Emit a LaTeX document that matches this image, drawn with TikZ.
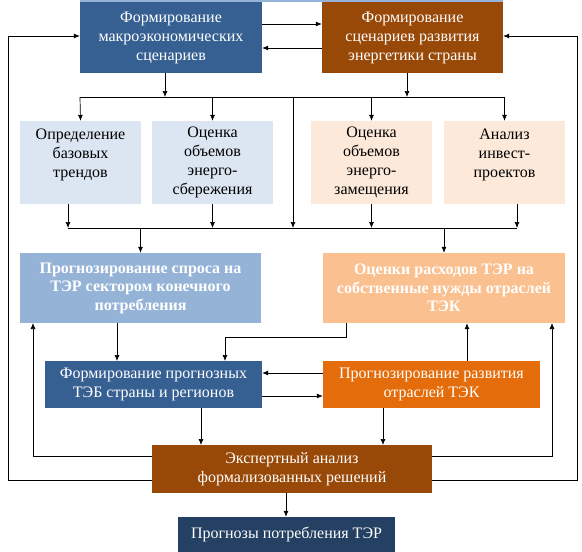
\documentclass[tikz,border=0pt]{standalone}
\usepackage{fontspec}
\setmainfont{Liberation Serif}
\usetikzlibrary{arrows.meta}
\definecolor{dblue}{HTML}{366092}
\definecolor{brn}{HTML}{984807}
\definecolor{lblue}{HTML}{DCE6F2}
\definecolor{lpeach}{HTML}{FDE9D9}
\definecolor{mblue}{HTML}{95B3D7}
\definecolor{mpeach}{HTML}{FAC090}
\definecolor{orng}{HTML}{E46C0A}
\definecolor{navy}{HTML}{244062}
\tikzset{
  box/.style={rectangle, inner sep=0pt, align=center, font=\fontsize{16}{19}\selectfont},
  wbox/.style={box, text=white},
  kbox/.style={box, text=black},
  bbox/.style={wbox, font=\fontsize{16}{18.5}\selectfont\bfseries},
  arr/.style={-{Latex[length=6pt,width=5pt]}, line width=0.7pt},
  ln/.style={line width=0.7pt}
}
\begin{document}
\begin{tikzpicture}[x=1pt,y=-1pt]
\useasboundingbox (0,0) rectangle (582,552);
\fill[mblue] (80,0) rectangle (503,2);
% top boxes
\node[wbox, fill=dblue, minimum width=182, minimum height=71] (b1) at (171,37.5) {Формирование\\макроэкономических\\сценариев};
\node[wbox, fill=brn, minimum width=181, minimum height=71] (b2) at (412.5,37.5) {Формирование\\сценариев развития\\энергетики страны};
% row 2
\node[kbox, fill=lblue, minimum width=121, minimum height=83] (a) at (80.5,162.5) {Определение\\базовых\\трендов\\~};
\node[kbox, fill=lblue, minimum width=121, minimum height=83] (b) at (212.5,162.5) {Оценка\\объемов\\энерго-\\сбережения};
\node[kbox, fill=lpeach, minimum width=121, minimum height=83] (c) at (371.5,162.5) {Оценка\\объемов\\энерго-\\замещения};
\node[kbox, fill=lpeach, minimum width=121, minimum height=83] (d) at (504.5,162.5) {Анализ\\инвест-\\проектов\\~};
% row 3
\node[bbox, fill=mblue, minimum width=241, minimum height=70] (e) at (140.5,288) {Прогнозирование спроса на\\ТЭР сектором конечного\\потребления};
\node[bbox, fill=mpeach, minimum width=242, minimum height=70] (f) at (444,288) {Оценки расходов ТЭР на\\собственные нужды отраслей\\ТЭК};
% row 4
\node[wbox, fill=dblue, minimum width=217, minimum height=47] (g) at (153.5,384.5) {Формирование прогнозных\\ТЭБ страны и регионов};
\node[wbox, fill=orng, minimum width=217, minimum height=47] (h) at (431.5,384.5) {Прогнозирование развития\\отраслей ТЭК};
% row 5
\node[wbox, fill=brn, minimum width=280, minimum height=48] (i) at (292,469) {Экспертный анализ\\формализованных решений};
\node[wbox, fill=navy, minimum width=217, minimum height=35] (j) at (286.5,534.5) {Прогнозы потребления ТЭР};

% coordinates
\coordinate (bus1) at (293,97);
\coordinate (bus2) at (293,228);
% top box exchange
\draw[arr] ([yshift=13.5]b1.east) -- ([yshift=13.5]b2.west);
\draw[arr] ([yshift=-10.5]b2.west) -- ([yshift=-10.5]b1.east);
% top to bus1
\draw[arr] (165,73) -- (165,97);
\draw[arr] (407,73) -- (407,97);
\draw[ln] (80,97) -- (504,97);
\draw[arr] (80,97) -- (a.north);
\draw[arr] (b.north |- bus1) -- (b.north);
\draw[arr] (c.north |- bus1) -- (c.north);
\draw[arr] (d.north |- bus1) -- (d.north);
\draw[arr] (bus1) -- (bus2);
% row2 to bus2
\draw[arr] (68,204) -- (68,228);
\draw[arr] (b.south) -- (b.south |- bus2);
\draw[arr] (c.south) -- (c.south |- bus2);
\draw[arr] (517,204) -- (517,228);
\draw[ln] (68,228) -- (517,228);
\draw[arr] (e.north |- bus2) -- (e.north);
\draw[arr] (f.north |- bus2) -- (f.north);
% row3 to row4
\draw[arr] (117,323) -- (117,361);
\draw[arr] (346,323) -- (346,337) -- (225,337) -- (225,361);
\draw[arr] (h.north -| 467,0) -- (f.south -| 467,0);
\draw[arr] ([yshift=11.5]h.west) -- ([yshift=11.5]g.east);
\draw[arr] ([yshift=-11.5]g.east) -- ([yshift=-11.5]h.west);
% row4 to I
\draw[arr] (201,408) -- (201,445);
\draw[arr] (383,408) -- (383,445);
\draw[arr] (i.south -| 286,0) -- (j.north -| 286,0);
% inner feedback
\draw[arr] (i.west |- 0,456) -- (33,456) -- (33,323);
\draw[arr] (i.east |- 0,456) -- (552,456) -- (552,323);
% outer feedback
\draw[arr] (i.west |- 0,480) -- (8,480) -- (8,36) -- (b1.west |- 0,36);
\draw[arr] (i.east |- 0,480) -- (577,480) -- (577,36) -- (b2.east |- 0,36);
\end{tikzpicture}
\end{document}
